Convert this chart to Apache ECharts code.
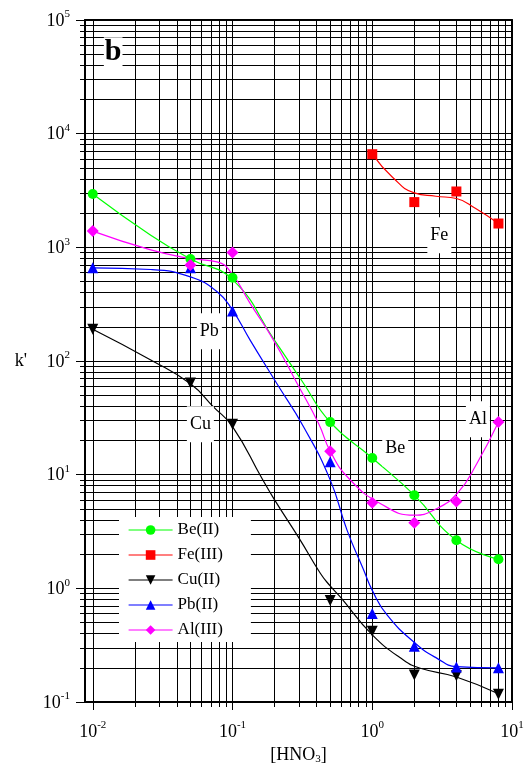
<!DOCTYPE html>
<html><head><meta charset="utf-8">
<script src="https://cdn.jsdelivr.net/npm/echarts@6/dist/echarts.min.js"></script>
<style>html,body{margin:0;padding:0;background:#fff}#c{width:524px;height:764px}</style>
</head><body><div id="c"></div>
<script>
const FONT = "'Liberation Serif','Times New Roman',serif";

// ---- measured points ----
const conc   = [0.01, 0.05, 0.1, 0.5, 1, 2, 4, 8];
const feConc = [1, 2, 4, 8];
const beK = [2950, 790, 540, 29, 14, 6.6, 2.65, 1.8];
const feK = [6600, 2500, 3100, 1620];
const cuK = [190, 64, 27.7, 0.78, 0.42, 0.173, 0.17, 0.117];
const pbK = [660, 660, 276, 13, 0.6, 0.31, 0.203, 0.2];
const alK = [1390, 700, 900, 16.1, 5.65, 3.77, 5.8, 29];

// ---- fitted curves ----
const beFitX = [0.01, 0.026, 0.05, 0.1, 0.2, 0.316, 0.5, 1, 2, 4, 8];
const beFitK = [2950, 1280, 790, 520, 152, 66, 29, 14, 6.6, 2.65, 1.8];
const feFitX = [1, 1.39, 2, 2.85, 4, 5.5, 8];
const feFitK = [6600, 4160, 3010, 2815, 2690, 2195, 1620];
const cuFitX = [0.01, 0.026, 0.05, 0.073, 0.1, 0.163, 0.2, 0.3, 0.426, 0.5, 0.59, 1, 1.68, 2.21, 4, 8];
const cuFitK = [190, 102, 63, 39.5, 26.5, 9.2, 6, 2.75, 1.35, 1.05, 0.84, 0.39, 0.233, 0.198, 0.166, 0.118];
const pbFitX = [0.01, 0.026, 0.05, 0.078, 0.1, 0.134, 0.208, 0.323, 0.5, 0.66, 0.868, 1, 1.28, 2.04, 2.91, 4, 8];
const pbFitK = [660, 638, 549, 405, 280, 152, 63, 26.3, 9, 3.25, 1.45, 0.96, 0.58, 0.327, 0.242, 0.205, 0.2];
const alFitX = [0.01, 0.026, 0.05, 0.0775, 0.097, 0.134, 0.197, 0.29, 0.413, 0.5, 0.683, 1.14, 2, 2.75, 4.05, 5.62, 8];
const alFitK = [1390, 950, 797, 744, 608, 320, 152, 63.4, 28.2, 16.1, 9.2, 5.58, 4.4, 4.87, 6.83, 12.6, 29];

// ---- annotations ----
const annX    = [0.014, 0.0683, 0.0589, 3.02, 1.46, 5.7];
const annK    = [52000, 183, 27.8, 1277, 17.1, 30.8];
const annText = ['b', 'Pb', 'Cu', 'Fe', 'Be', 'Al'];

// ---- axes ----
const xMin = 0.0088, xMax = 10, yMin = 0.1, yMax = 100000;
const xMajor = [0.01, 0.1, 1, 10];
const yMajor = [0.1, 1, 10, 100, 1000, 10000, 100000];
const minorMult = [2, 3, 4, 5, 6, 7, 8, 9];
const xMinor = [];
[0.01, 0.1, 1].forEach(d => minorMult.forEach(m => xMinor.push(+(d * m).toPrecision(3))));
const yMinor = [];
[0.1, 1, 10, 100, 1000, 10000].forEach(d => minorMult.forEach(m => yMinor.push(+(d * m).toPrecision(3))));

const names  = ['Be(II)', 'Fe(III)', 'Cu(II)', 'Pb(II)', 'Al(III)'];
const colors = ['#00ff00', '#ff0000', '#000000', '#0000ff', '#ff00ff'];
const symbols = ['circle', 'rect', 'triangle', 'triangle', 'diamond'];
const symSizes = [10, 10, 11, 11, 12];
const symRot = [0, 0, 180, 0, 0];
const ptsX = [conc, feConc, conc, conc, conc];
const ptsK = [beK, feK, cuK, pbK, alK];
const fitX = [beFitX, feFitX, cuFitX, pbFitX, alFitX];
const fitK = [beFitK, feFitK, cuFitK, pbFitK, alFitK];

const zip = (a, b) => a.map((v, i) => [v, b[i]]);

function powLabel(v) {
  const l = Math.log10(v), e = Math.round(l);
  if (Math.abs(l - e) > 1e-6) return '';
  return '{b|10}{s|' + e + '}';
}
const rich = {
  b: {fontFamily: FONT, fontSize: 18, color: '#000', padding: [2, 0, 0, 0]},
  s: {fontFamily: FONT, fontSize: 11, color: '#000', padding: [0, 0, 11, 0]}
};
const gridLine = {show: true, lineStyle: {color: '#000', width: 1}};
const axisLineMain = {show: true, onZero: false, lineStyle: {color: '#000', width: 2}};

const series = [];
names.forEach((n, i) => {
  series.push({
    type: 'line', name: n + ' fit', xAxisIndex: 0, yAxisIndex: 0,
    data: zip(fitX[i], fitK[i]), smooth: 0.5, symbol: 'none', silent: true,
    lineStyle: {color: colors[i], width: 1.2}, z: 3
  });
});
names.forEach((n, i) => {
  series.push({
    type: 'line', name: n, xAxisIndex: 0, yAxisIndex: 0,
    data: zip(ptsX[i], ptsK[i]), symbol: symbols[i], symbolSize: symSizes[i],
    symbolRotate: symRot[i], showAllSymbol: true,
    itemStyle: {color: colors[i]}, lineStyle: {color: colors[i], opacity: 0}, z: 4
  });
});
series.push({
  type: 'scatter', xAxisIndex: 0, yAxisIndex: 0, silent: true, symbolSize: 1,
  itemStyle: {color: 'rgba(0,0,0,0)'}, z: 6,
  data: annText.map((t, i) => ({
    name: t, value: [annX[i], annK[i]],
    label: t === 'b' ? {fontWeight: 'bold', fontSize: 30, lineHeight: 30, padding: [0, 1]} : undefined
  })),
  label: {show: true, position: 'inside', formatter: p => p.name, color: '#000', opacity: 1,
    textBorderWidth: 0, textBorderColor: 'transparent', textShadowBlur: 0,
    fontFamily: FONT, fontSize: 18, lineHeight: 20, backgroundColor: '#fff', padding: [8, 3]}
});

const chart = echarts.init(document.getElementById('c'), null, {renderer: 'canvas'});
chart.setOption({
  animation: false,
  backgroundColor: '#fff',
  grid: {left: 85, right: 12, top: 20, bottom: 62, containLabel: false, outerBoundsMode: 'none'},
  legend: {
    data: names.map((n, i) => ({name: n, lineStyle: {color: colors[i], width: 1.2, opacity: 1}})),
    orient: 'vertical', left: 119, top: 517, selectedMode: false,
    backgroundColor: '#fff', padding: [3, 28, 2, 9], itemWidth: 44, itemHeight: 12, itemGap: 5,
    lineStyle: {width: 1.2, opacity: 1},
    textStyle: {fontFamily: FONT, fontSize: 17, color: '#000', lineHeight: 20},
    z: 10
  },
  xAxis: [
    {type: 'log', logBase: 10, min: xMin, max: xMax, position: 'bottom',
     axisLine: axisLineMain,
     axisTick: {show: true, inside: false, length: 8, customValues: xMajor, lineStyle: {color: '#000', width: 1}},
     axisLabel: {show: true, customValues: xMajor, formatter: powLabel, margin: 18, rich: rich},
     splitLine: gridLine,
     name: '[HNO{sub|3}]', nameLocation: 'middle', nameGap: 42,
     nameTextStyle: {fontFamily: FONT, fontSize: 18, color: '#000',
       rich: {sub: {fontFamily: FONT, fontSize: 11, color: '#000', padding: [9, 0, 0, 0]}}}},
    {type: 'log', logBase: 10, min: xMin, max: xMax, position: 'bottom',
     axisLine: {show: false},
     axisTick: {show: true, inside: false, length: 5, customValues: xMinor, lineStyle: {color: '#000', width: 1}},
     axisLabel: {show: false}, splitLine: gridLine},
    {type: 'log', logBase: 10, min: xMin, max: xMax, position: 'top',
     axisLine: axisLineMain, axisTick: {show: false}, axisLabel: {show: false}, splitLine: {show: false}}
  ],
  yAxis: [
    {type: 'log', logBase: 10, min: yMin, max: yMax, interval: 1, position: 'left',
     axisLine: axisLineMain,
     axisTick: {show: true, inside: false, length: 9, customValues: yMajor, lineStyle: {color: '#000', width: 1}},
     axisLabel: {show: true, customValues: yMajor, formatter: powLabel, margin: 15, rich: rich},
     splitLine: gridLine,
     name: "k'", nameLocation: 'middle', nameGap: 58, nameRotate: 0,
     nameTextStyle: {fontFamily: FONT, fontSize: 18, color: '#000'}},
    {type: 'log', logBase: 10, min: yMin, max: yMax, interval: 1, position: 'left',
     axisLine: {show: false},
     axisTick: {show: true, inside: false, length: 5, customValues: yMinor, lineStyle: {color: '#000', width: 1}},
     axisLabel: {show: false}, splitLine: gridLine},
    {type: 'log', logBase: 10, min: yMin, max: yMax, interval: 1, position: 'right',
     axisLine: axisLineMain, axisTick: {show: false}, axisLabel: {show: false}, splitLine: {show: false}}
  ],
  series: series
});
</script>
</body></html>
